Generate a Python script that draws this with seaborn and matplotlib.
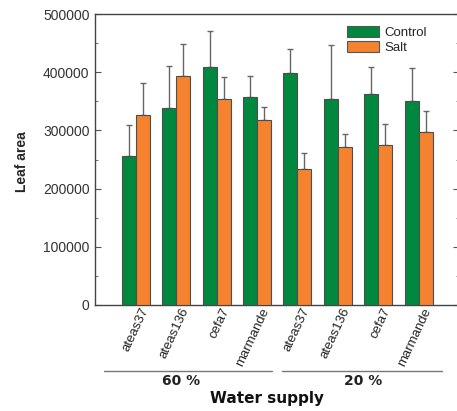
import numpy as np
import pandas as pd
import matplotlib
matplotlib.use("Agg")
import matplotlib.pyplot as plt
import matplotlib.transforms as mtransforms
from matplotlib.patches import Patch
from matplotlib.ticker import MultipleLocator
import seaborn as sns

# datos
cultivares = ["ateas37", "ateas136", "cefa7", "marmande"]
riego = ["60 %", "20 %"]
control_media = [256000, 338000, 409000, 357000, 399000, 354000, 362000, 350000]
control_error = [54000, 73000, 61000, 36000, 41000, 93000, 47000, 58000]
sal_media = [327000, 394000, 354000, 318000, 234000, 272000, 275000, 298000]
sal_error = [54000, 54000, 37000, 22000, 27000, 21000, 36000, 35000]

sns.set_style("white")
plt.rcParams['font.family'] = ['Liberation Sans', 'DejaVu Sans']

etiquetas = [f"{r} {c}" for r in riego for c in cultivares]
df = pd.DataFrame({
    "grupo": etiquetas * 2,
    "tratamiento": ["Control"] * 8 + ["Salt"] * 8,
    "area": control_media + sal_media,
    "error": control_error + sal_error,
})

colores = {"Control": "#00883f", "Salt": "#f5822f"}

fig = plt.figure(figsize=(4.57, 4.11), dpi=100)
# el eje derecho queda justo fuera de la imagen, como en el original
ax = fig.add_axes([95 / 457, 1 - 305 / 411, 364 / 457, 291 / 411])

sns.barplot(data=df, x="grupo", y="area", hue="tratamiento", order=etiquetas,
            palette=colores, saturation=1, width=0.69, errorbar=None,
            edgecolor="#4d4d4d", linewidth=0.8, legend=False, ax=ax, zorder=3)

# barras de error solo hacia arriba
barras = sorted([p for p in ax.patches if p.get_height() > 0], key=lambda p: p.get_x())
errores = []
for i in range(8):
    errores += [control_error[i], sal_error[i]]
xs = [p.get_x() + p.get_width() / 2 for p in barras]
ys = [p.get_height() for p in barras]
ax.errorbar(xs, ys, yerr=[np.zeros(len(errores)), errores], fmt="none",
            ecolor="#666666", elinewidth=1, capsize=2.3, capthick=1, zorder=2)

ax.set_xlim(-1.01, 8.0)
ax.set_ylim(0, 500000)
ax.yaxis.set_major_locator(MultipleLocator(100000))
ax.yaxis.set_minor_locator(MultipleLocator(50000))
ax.tick_params(axis="y", which="both", direction="in", left=True, right=True,
               labelsize=10, labelcolor="#333333", color="#555555", pad=4)
ax.tick_params(axis="y", which="major", length=4)
ax.tick_params(axis="y", which="minor", length=2.5)
ax.tick_params(axis="x", length=0, pad=2)
for s in ax.spines.values():
    s.set_color("#444444")
    s.set_linewidth(1)

ax.set_xticks(range(8))
ax.set_xticklabels(cultivares * 2, rotation=65, ha="right", rotation_mode="anchor",
                   fontsize=9.5, color="#222222")
desplaza = mtransforms.ScaledTranslation(4 / 100, 2 / 100, fig.dpi_scale_trans)
for lbl in ax.get_xticklabels():
    lbl.set_transform(lbl.get_transform() + desplaza)

ax.set_xlabel("")
ax.set_ylabel("Leaf area", fontsize=10, fontweight="bold")
ax.yaxis.set_label_coords(-0.182, 0.491)

# corchetes de grupo
mezcla = mtransforms.blended_transform_factory(ax.transData, fig.transFigure)
y_linea = 1 - 371 / 411
for (x0, x1), xt, txt in [((-0.78, 3.38), 1.13, riego[0]), ((3.63, 7.59), 5.63, riego[1])]:
    ax.plot([x0, x1], [y_linea, y_linea], color="#777777", lw=1,
            transform=mezcla, clip_on=False)
    ax.text(xt, 1 - 381 / 411, txt, transform=mezcla, ha="center", va="center",
            fontsize=10, fontweight="bold", family="DejaVu Sans", color="#222222")
fig.text(267 / 457, 1 - 398 / 411, "Water supply", ha="center", va="center",
         fontsize=11, fontweight="bold", family="DejaVu Sans", color="#111111")

manejadores = [Patch(facecolor=colores[k], edgecolor="#555555", linewidth=0.8, label=k)
               for k in ["Control", "Salt"]]
fig.legend(handles=manejadores, loc="upper left", bbox_to_anchor=(347 / 457, 1 - 26 / 411),
           frameon=False, fontsize=9.5, handlelength=2.4, handleheight=0.95,
           handletextpad=0.4, labelspacing=0.1, borderpad=0, borderaxespad=0)

fig.savefig("out.png", dpi=100)
